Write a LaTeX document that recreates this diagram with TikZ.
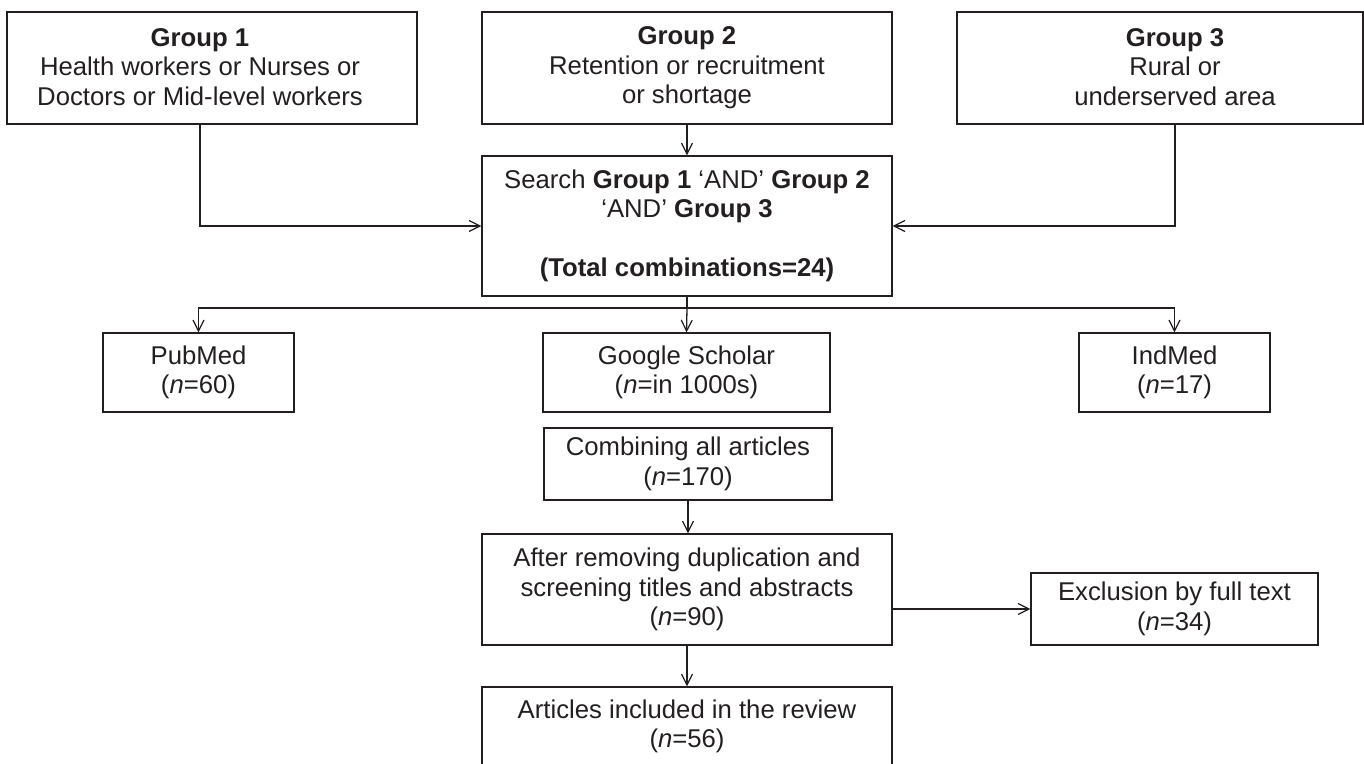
\documentclass[tikz,border=0pt]{standalone}
\usepackage{fontspec}
\setmainfont{Liberation Sans}
\usetikzlibrary{arrows.meta}
\definecolor{ink}{RGB}{35,31,32}
\begin{document}
\begin{tikzpicture}[x=1pt,y=-1pt,
  boxfont/.style={font=\fontsize{25.7pt}{29.5pt}\selectfont},
  box/.style={draw=ink, line width=1.3pt, inner sep=0pt, text=ink, align=center, boxfont},
  txt/.style={text=ink, align=center, inner sep=0pt, boxfont},
  link/.style={draw=ink, line width=1.3pt},
  conn/.style={link, -{Straight Barb[length=11pt,width=11pt,line width=1.2pt]}}]
\useasboundingbox (0,0) rectangle (1364,763);

% top row
\node[box, minimum width=410pt, minimum height=112pt] (G1) at (212,68) {};
\node[txt] (G1t) at (200,67) {\textbf{Group 1}\\Health workers or Nurses or\\Doctors or Mid-level workers};
\node[box, minimum width=410pt, minimum height=112pt] (G2) at (687,68) {\textbf{Group 2}\\Retention or recruitment\\or shortage};
\node[box, minimum width=406pt, minimum height=112pt] (G3) at (1160,68) {};
\node[txt] (G3t) at (1175,67) {\textbf{Group 3}\\Rural or\\underserved area};

% search
\node[box, minimum width=410pt, minimum height=140pt] (S) at (687,226)
  {Search \textbf{Group 1} ‘AND’ \textbf{Group 2}\\‘AND’ \textbf{Group 3}\\[29.5pt]\textbf{(Total combinations=24)}};

% databases
\node[box, minimum width=191pt, minimum height=79pt] (P) at (198.5,372.5) {PubMed\\(\textit{n}=60)};
\node[box, minimum width=287pt, minimum height=79pt] (GS) at (686.5,372.5) {Google Scholar\\(\textit{n}=in 1000s)};
\node[box, minimum width=191pt, minimum height=79pt] (I) at (1174.5,372.5) {IndMed\\(\textit{n}=17)};

% lower chain
\node[box, minimum width=288pt, minimum height=72pt] (C) at (688,464) {Combining all articles\\(\textit{n}=170)};
\node[box, minimum width=410pt, minimum height=111pt] (A) at (687,589.5) {After removing duplication and\\screening titles and abstracts\\(\textit{n}=90)};
\node[box, minimum width=287pt, minimum height=72pt] (E) at (1174.5,609) {Exclusion by full text\\(\textit{n}=34)};
\node[box, minimum width=410pt, minimum height=79pt] (R) at (687,726.5) {Articles included in the review\\(\textit{n}=56)};

% connectors
\draw[conn] (G1t |- G1.south) |- (S.west);
\draw[conn] (G3t |- G3.south) |- (S.east);
\draw[conn] (G2.south) -- (S.north);
\coordinate (J) at (687,308);
\draw[link] (S.south) -- (J);
\draw[conn] (J) -- (GS.north);
\draw[conn] (J) -| (P.north);
\draw[conn] (J) -| (I.north);
\draw[conn] (C.south) -- (C.south |- A.north);
\draw[conn] (E.west -| A.east) -- (E.west);
\draw[conn] (A.south) -- (R.north);
\end{tikzpicture}
\end{document}
